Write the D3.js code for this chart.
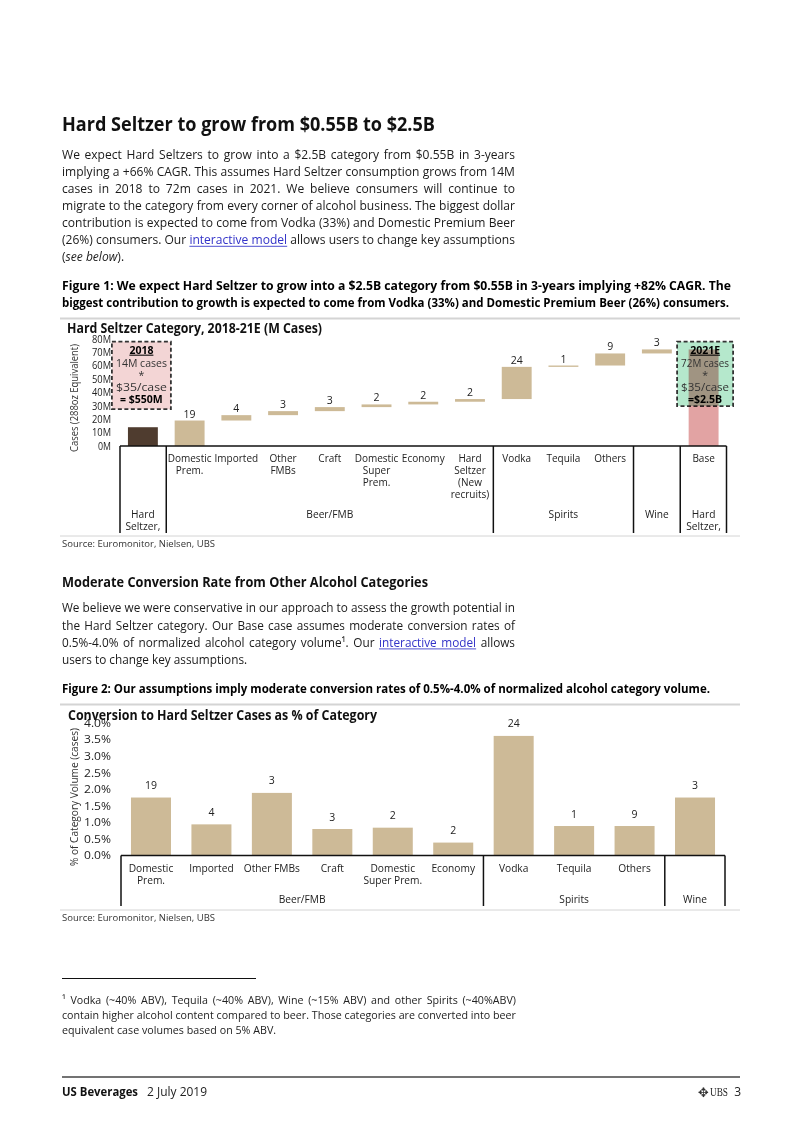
<!DOCTYPE html>
<html><head><meta charset="utf-8">
<script src="https://cdn.jsdelivr.net/npm/d3@7"></script>
<style>
body{margin:0;background:#fff}
svg{display:block}
text{font-family:'Open Sans','Noto Sans',sans-serif;fill:#1a1a1a}
</style>
</head><body>
<svg id="page" width="802" height="1133"></svg>
<script>
// ---------------- DATA ----------------
const wfCategories = ["2018","Domestic Prem.","Imported","Other FMBs","Craft","Domestic Super Prem.","Economy","Hard Seltzer (New recruits)","Vodka","Tequila","Others","Wine","Base"];
const wfStart  = [0, 0, 19, 23, 26, 29, 31, 33, 35, 59, 60, 69, 0];
const wfValues = [14, 19, 4, 3, 3, 2, 2, 2, 24, 1, 9, 3, 72];
const wfSubLabels = [[],["Domestic","Prem."],["Imported"],["Other","FMBs"],["Craft"],["Domestic","Super","Prem."],["Economy"],["Hard","Seltzer","(New","recruits)"],["Vodka"],["Tequila"],["Others"],[],["Base"]];
const wfGroups = [
  {name:["Hard","Seltzer,"], from:0, to:0},
  {name:["Beer/FMB"], from:1, to:7},
  {name:["Spirits"], from:8, to:10},
  {name:["Wine"], from:11, to:11},
  {name:["Hard","Seltzer,"], from:12, to:12}
];
const wfTicks = [0,10,20,30,40,50,60,70,80];
const box2018Lines = [["2018",true,true],["14M  cases",false,false],["*",false,false],["$35/case",false,false],["= $550M",true,false]];
const box2021Lines = [["2021E",true,true],["72M cases",false,false],["*",false,false],["$35/case",false,false],["=$2.5B",true,false]];

const convCategories = ["Domestic Prem.","Imported","Other FMBs","Craft","Domestic Super Prem.","Economy","Vodka","Tequila","Others","Wine"];
const convValues = [1.75, 0.94, 1.89, 0.80, 0.84, 0.39, 3.61, 0.89, 0.89, 1.75];
const convCases  = [19, 4, 3, 3, 2, 2, 24, 1, 9, 3];
const convSubLabels = [["Domestic","Prem."],["Imported"],["Other FMBs"],["Craft"],["Domestic","Super Prem."],["Economy"],["Vodka"],["Tequila"],["Others"],[]];
const convGroups = [
  {name:"Beer/FMB", from:0, to:5},
  {name:"Spirits", from:6, to:8},
  {name:"Wine", from:9, to:9}
];
const convTicks = [0,0.5,1,1.5,2,2.5,3,3.5,4];

const para1 = [
  [["We expect Hard Seltzers to grow into a $2.5B category from $0.55B in 3-years"]],
  [["implying a +66% CAGR. This assumes Hard Seltzer consumption grows from 14M"]],
  [["cases in 2018 to 72m cases in 2021. We believe consumers will continue to"]],
  [["migrate to the category from every corner of alcohol business. The biggest dollar"]],
  [["contribution is expected to come from Vodka (33%) and Domestic Premium Beer"]],
  [["(26%) consumers. Our "],["interactive model","link"],[" allows users to change key assumptions"]],
  [["("],["see below","italic"],[")."]]
];
const para2 = [
  [["We believe we were conservative in our approach to assess the growth potential in"]],
  [["the Hard Seltzer category. Our Base case assumes moderate conversion rates of"]],
  [["0.5%-4.0% of normalized alcohol category volume¹. Our "],["interactive model","link"],[" allows"]],
  [["users to change key assumptions."]]
];
const footnote = [
  [["¹ Vodka (~40% ABV), Tequila (~40% ABV), Wine (~15% ABV) and other Spirits (~40%ABV)"]],
  [["contain higher alcohol content compared to beer. Those categories are converted into beer"]],
  [["equivalent case volumes based on 5% ABV."]]
];

// ---------------- HELPERS ----------------
const svg = d3.select("#page");

function txt(parent, x, y, s, o = {}) {
  const t = parent.append("text").attr("x", x).attr("y", y).text(s)
    .attr("font-size", o.size || 12).attr("font-weight", o.weight || 400)
    .attr("text-anchor", o.anchor || "start");
  if (o.fill) t.style("fill", o.fill);
  if (o.width) t.attr("textLength", o.width).attr("lengthAdjust", "spacingAndGlyphs");
  return t;
}

function splitWords(segs) {
  const words = []; let cur = [];
  segs.forEach(([t, s]) => {
    t.split(" ").forEach((part, j) => {
      if (j > 0) { if (cur.length) words.push(cur); cur = []; }
      if (part) cur.push({t: part, s: s || null});
    });
  });
  if (cur.length) words.push(cur);
  return words;
}

function paragraph(lines, o) {
  const g = svg.append("g");
  const m1 = g.append("text").attr("font-size", o.size).text("a a");
  const m2 = g.append("text").attr("font-size", o.size).text("aa");
  const space = m1.node().getComputedTextLength() - m2.node().getComputedTextLength();
  m1.remove(); m2.remove();
  const laid = lines.map(segs => splitWords(segs).map(w => {
    const t = g.append("text").attr("font-size", o.size).style("fill", o.fill || "#1a1a1a");
    w.forEach(p => {
      const ts = t.append("tspan").text(p.t);
      if (p.s === "link") ts.style("fill", "#3232c8");
      if (p.s === "italic") ts.attr("font-style", "italic");
    });
    return {sel: t, w: t.node().getComputedTextLength(), link: w.every(p => p.s === "link")};
  }));
  const natural = laid.map(ws => d3.sum(ws, d => d.w) + space * (ws.length - 1));
  const sx = Math.min(1, o.width / d3.max(natural));
  g.attr("transform", `translate(${o.x},0) scale(${sx},1)`);
  const W = o.width / sx;
  laid.forEach((ws, i) => {
    const yb = o.y + i * o.lh;
    const sumw = d3.sum(ws, d => d.w);
    const just = o.justify(i, lines.length) && ws.length > 1;
    const gap = just ? (W - sumw) / (ws.length - 1) : space;
    let cx = 0, lx0 = null, lx1 = null;
    ws.forEach(d => {
      d.sel.attr("x", cx).attr("y", yb);
      if (d.link) { if (lx0 === null) lx0 = cx; lx1 = cx + d.w; }
      cx += d.w + gap;
    });
    if (lx0 !== null) {
      g.append("line").attr("x1", lx0).attr("x2", lx1).attr("y1", yb + 1.8).attr("y2", yb + 1.8)
        .attr("stroke", "#3232c8").attr("stroke-width", 0.9);
    }
  });
}

function hline(x1, x2, y, color, w) {
  svg.append("line").attr("x1", x1).attr("x2", x2).attr("y1", y).attr("y2", y)
    .attr("stroke", color).attr("stroke-width", w);
}

// ---------------- TEXT: TOP ----------------
txt(svg, 62, 131, "Hard Seltzer to grow from $0.55B to $2.5B", {size: 19.5, weight: 700, width: 373, fill: "#111"});
paragraph(para1, {x: 62, y: 159.5, lh: 17, width: 453, size: 13.2, justify: (i, n) => i < n - 1});

txt(svg, 62, 290, "Figure 1: We expect Hard Seltzer to grow into a $2.5B category from $0.55B in 3-years implying +82% CAGR. The", {size: 11.8, weight: 700, width: 669, fill: "#000"});
txt(svg, 62, 307, "biggest contribution to growth is expected to come from Vodka (33%) and Domestic Premium Beer (26%) consumers.", {size: 11.8, weight: 700, width: 667, fill: "#000"});

// ---------------- CHART 1: WATERFALL ----------------
hline(60, 740, 318.5, "#d4d4d4", 2);

const x1 = d3.scaleBand().domain(wfCategories).range([120, 726.5]).paddingInner(0.36).paddingOuter(0.17);
const y1 = d3.scaleLinear().domain([0, 80]).range([446, 338.7]);
const c1 = i => x1(wfCategories[i]) + x1.bandwidth() / 2;

const ax1 = svg.append("g").attr("transform", "translate(112,0)")
  .call(d3.axisLeft(y1).tickValues(wfTicks).tickFormat(d => d + "M").tickSize(0).tickPadding(1));
ax1.select(".domain").remove();
ax1.selectAll("text").attr("font-size", 10.5).style("fill", "#222").attr("font-family", null)
  .attr("textLength", d => (d >= 10 ? 19 : 13)).attr("lengthAdjust", "spacingAndGlyphs");

txt(svg, 67, 333, "Hard Seltzer Category, 2018-21E (M Cases)", {size: 14.5, weight: 700, width: 255, fill: "#111"});

svg.append("text").attr("transform", "translate(78,398) rotate(-90)").attr("text-anchor", "middle")
  .attr("font-size", 10.5).attr("textLength", 108).attr("lengthAdjust", "spacingAndGlyphs")
  .style("fill", "#333").text("Cases (288oz Equivalent)");

const nW = wfCategories.length;
svg.append("g").selectAll("rect").data(wfCategories).join("rect")
  .attr("x", d => x1(d)).attr("width", x1.bandwidth())
  .attr("y", (d, i) => y1(wfStart[i] + wfValues[i]))
  .attr("height", (d, i) => y1(wfStart[i]) - y1(wfStart[i] + wfValues[i]))
  .attr("fill", (d, i) => i === 0 ? "#4f3c2f" : (i === nW - 1 ? "#e2a3a3" : "#cdba97"));

svg.append("g").selectAll("text").data(wfCategories.slice(1, nW - 1)).join("text")
  .attr("x", (d, k) => c1(k + 1)).attr("y", (d, k) => y1(wfStart[k + 1] + wfValues[k + 1]) - 3)
  .attr("text-anchor", "middle").attr("font-size", 10.5).style("fill", "#222")
  .text((d, k) => wfValues[k + 1]);

// annotation boxes
function annBox(cx, w, yTop, yBot, fill, lines, blend) {
  const r = svg.append("rect").attr("x", cx - w / 2).attr("y", yTop).attr("width", w).attr("height", yBot - yTop)
    .attr("fill", fill).attr("stroke", "#333").attr("stroke-width", 1.8).attr("stroke-dasharray", "4,2.5");
  if (blend) r.style("mix-blend-mode", "multiply");
  const offs = [12, 25.5, 37, 49.5, 61];
  lines.forEach(([s, bold, ul], k) => {
    const t = txt(svg, cx, yTop + offs[k], s, {size: 10.5, weight: bold ? 700 : 400, anchor: "middle", fill: bold ? "#000" : "#333"});
    if (!bold && s.length > 5) t.attr("textLength", w - 8).attr("lengthAdjust", "spacingAndGlyphs");
    if (ul) t.style("text-decoration", "underline");
  });
}
annBox(c1(0) - 1.5, 59, y1(77.8), y1(27.5), "#f3d5d5", box2018Lines, false);
annBox(c1(nW - 1) + 1.5, 56, y1(77.8), y1(29.8), "#b5e8cc", box2021Lines, true);

// category table
const tableTop1 = y1(0), tableBot1 = 533;
hline(120, 726.5, tableTop1, "#111", 1.5);
const bounds1 = [120, (c1(0) + c1(1)) / 2, (c1(7) + c1(8)) / 2, (c1(10) + c1(11)) / 2, (c1(11) + c1(12)) / 2, 726.5];
bounds1.forEach(bx => svg.append("line").attr("x1", bx).attr("x2", bx).attr("y1", tableTop1).attr("y2", tableBot1)
  .attr("stroke", "#111").attr("stroke-width", 1.5));
wfSubLabels.forEach((ls, i) => ls.forEach((s, k) =>
  txt(svg, c1(i), 461.5 + 12 * k, s, {size: 10, anchor: "middle", fill: "#222"})));
wfGroups.forEach(g => g.name.forEach((s, k) =>
  txt(svg, (c1(g.from) + c1(g.to)) / 2, 517.5 + 12 * k, s, {size: 10.2, anchor: "middle", fill: "#222"})));

hline(60, 740, 536, "#d4d4d4", 1);
txt(svg, 62, 547, "Source:  Euromonitor, Nielsen, UBS", {size: 8.8, width: 153, fill: "#333"});

// ---------------- TEXT: MIDDLE ----------------
txt(svg, 62, 587, "Moderate Conversion Rate from Other Alcohol Categories", {size: 14.5, weight: 700, width: 366, fill: "#111"});
paragraph(para2, {x: 62, y: 612.5, lh: 17.3, width: 453, size: 13.2, justify: (i, n) => i < n - 1});
txt(svg, 62, 693, "Figure 2: Our assumptions imply moderate conversion rates of 0.5%-4.0% of normalized alcohol category volume.", {size: 11.8, weight: 700, width: 648, fill: "#000"});

// ---------------- CHART 2: CONVERSION BARS ----------------
hline(60, 740, 704.5, "#d4d4d4", 2);

const x2 = d3.scaleBand().domain(convCategories).range([121, 725]).paddingInner(0.338).paddingOuter(0.165);
const y2 = d3.scaleLinear().domain([0, 4]).range([855.5, 723]);
const c2 = i => x2(convCategories[i]) + x2.bandwidth() / 2;

const ax2 = svg.append("g").attr("transform", "translate(112,0)")
  .call(d3.axisLeft(y2).tickValues(convTicks).tickFormat(d => d.toFixed(1) + "%").tickSize(0).tickPadding(1));
ax2.select(".domain").remove();
ax2.selectAll("text").attr("font-size", 10.5).style("fill", "#222").attr("font-family", null)
  .attr("textLength", 27).attr("lengthAdjust", "spacingAndGlyphs");

txt(svg, 68, 719.5, "Conversion to Hard Seltzer Cases as % of Category", {size: 14.5, weight: 700, width: 309, fill: "#111"});

svg.append("text").attr("transform", "translate(78,797) rotate(-90)").attr("text-anchor", "middle")
  .attr("font-size", 10.5).attr("textLength", 138).attr("lengthAdjust", "spacingAndGlyphs")
  .style("fill", "#333").text("% of Category Volume (cases)");

svg.append("g").selectAll("rect").data(convCategories).join("rect")
  .attr("x", d => x2(d)).attr("width", x2.bandwidth())
  .attr("y", (d, i) => y2(convValues[i])).attr("height", (d, i) => y2(0) - y2(convValues[i]))
  .attr("fill", "#cdba97");
svg.append("g").selectAll("text").data(convCategories).join("text")
  .attr("x", (d, i) => c2(i)).attr("y", (d, i) => y2(convValues[i]) - 8.5)
  .attr("text-anchor", "middle").attr("font-size", 10.5).style("fill", "#222")
  .text((d, i) => convCases[i]);

const tableTop2 = y2(0), tableBot2 = 906;
hline(121, 725, tableTop2, "#111", 1.5);
const bounds2 = [121, (c2(5) + c2(6)) / 2, (c2(8) + c2(9)) / 2, 725];
bounds2.forEach(bx => svg.append("line").attr("x1", bx).attr("x2", bx).attr("y1", tableTop2).attr("y2", tableBot2)
  .attr("stroke", "#111").attr("stroke-width", 1.5));
convSubLabels.forEach((ls, i) => ls.forEach((s, k) =>
  txt(svg, c2(i), 871.5 + 12 * k, s, {size: 10.2, anchor: "middle", fill: "#222"})));
convGroups.forEach(g =>
  txt(svg, (c2(g.from) + c2(g.to)) / 2, 902.5, g.name, {size: 10.2, anchor: "middle", fill: "#222"}));

hline(60, 740, 910, "#d4d4d4", 1);
txt(svg, 62, 921, "Source:  Euromonitor, Nielsen, UBS", {size: 8.8, width: 153, fill: "#333"});

// ---------------- FOOTNOTE & FOOTER ----------------
hline(62, 256, 978.5, "#111", 1);
paragraph(footnote, {x: 62, y: 1004.5, lh: 15, width: 454, size: 11, justify: (i, n) => i < n - 1, fill: "#222"});

hline(62, 740, 1077, "#444", 1.5);
txt(svg, 62, 1096, "US Beverages", {size: 12.5, weight: 700, width: 76, fill: "#111"});
txt(svg, 147, 1096, "2 July 2019", {size: 12.5, width: 60, fill: "#222"});
svg.append("text").attr("x", 709).attr("y", 1097).attr("text-anchor", "end")
  .attr("font-size", 13).style("font-family", "'DejaVu Sans'").style("fill", "#333").text("✥");
svg.append("text").attr("x", 710).attr("y", 1096).attr("font-size", 12.5)
  .attr("textLength", 18).attr("lengthAdjust", "spacingAndGlyphs")
  .style("font-family", "'Liberation Serif','DejaVu Serif',serif").style("fill", "#222").text("UBS");
txt(svg, 741, 1096, "3", {size: 12, anchor: "end", fill: "#222"});
</script>
</body></html>
